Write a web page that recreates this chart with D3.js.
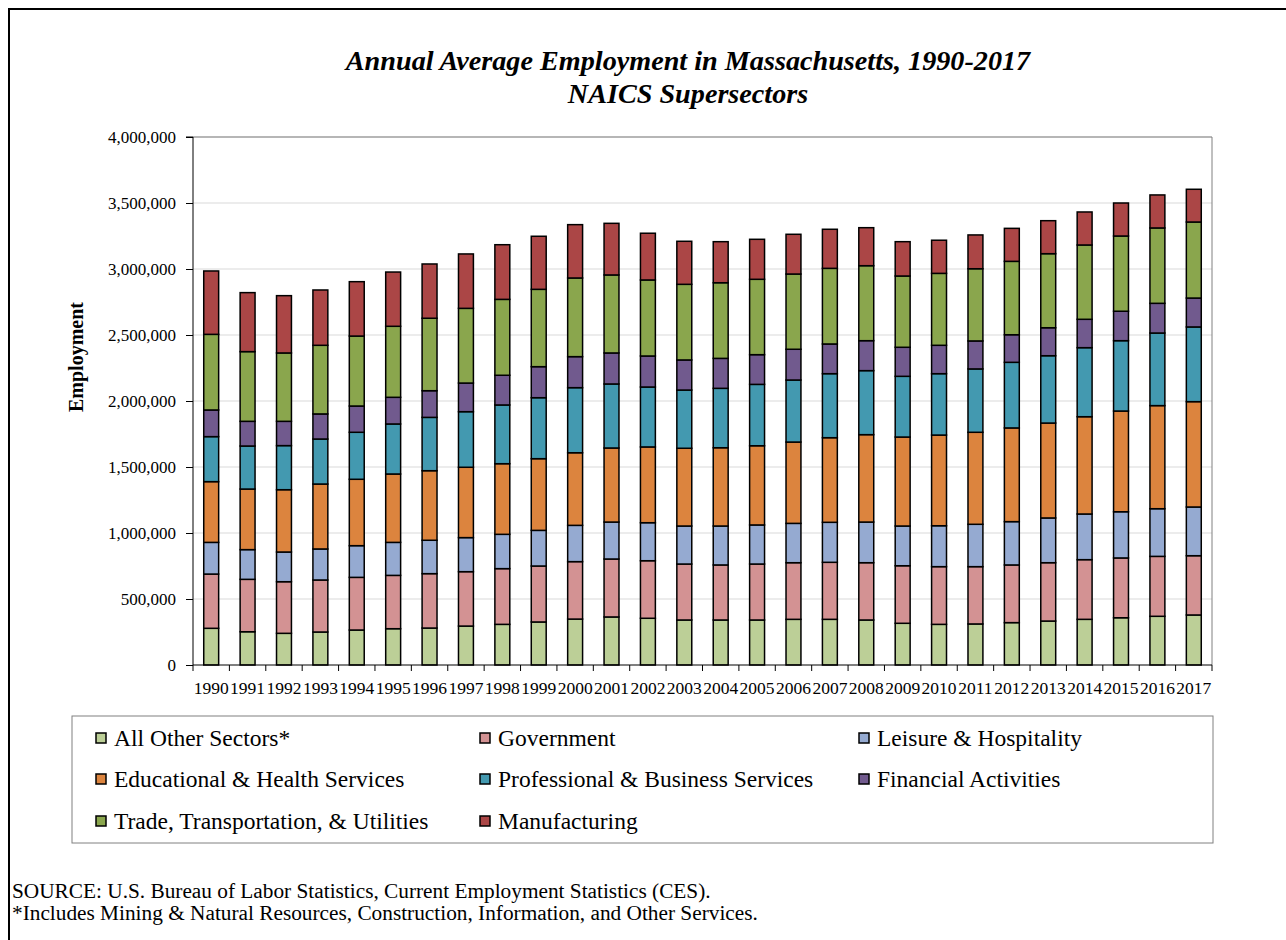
<!DOCTYPE html>
<html>
<head>
<meta charset="utf-8">
<script src="https://cdn.jsdelivr.net/npm/d3@7"></script>
<style>
  html, body { margin: 0; padding: 0; background: #fff; }
  svg { display: block; }
  text { font-family: "Liberation Serif", "Times New Roman", serif; fill: #000; }
</style>
</head>
<body>
<svg id="chart" width="1286" height="940"></svg>
<script>
// ---------- DATA (employment, thousands) ----------
const years = ["1990","1991","1992","1993","1994","1995","1996","1997","1998","1999",
  "2000","2001","2002","2003","2004","2005","2006","2007","2008","2009",
  "2010","2011","2012","2013","2014","2015","2016","2017"];

const allOther      = [278,252,240,250,265,275,280,295,308,326,348,364,354,341,341,341,346,346,341,316,308,311,321,333,346,358,369,379];
const government    = [411,397,391,394,399,404,412,412,422,424,435,439,436,424,417,424,429,432,434,436,437,434,437,442,452,453,454,449];
const leisure       = [240,225,225,235,240,250,253,258,260,270,275,280,288,288,295,296,298,303,308,301,310,321,328,339,346,350,361,369];
const eduHealth     = [460,459,472,492,503,518,527,533,535,543,550,561,574,589,593,600,616,641,662,674,687,697,710,719,737,763,781,798];
const profBusiness  = [341,326,334,341,356,379,404,421,445,462,493,485,454,441,450,465,470,485,485,460,465,480,497,510,523,533,550,566];
const financial     = [202,187,184,190,199,202,202,217,225,235,235,235,235,228,227,225,233,225,227,220,215,212,209,212,215,223,225,219];
const tradeTransUtil= [573,528,518,520,530,538,549,566,575,586,596,591,576,573,573,571,570,573,568,540,545,547,556,561,563,570,571,576];
const manufacturing = [480,447,434,419,412,411,411,412,414,402,404,391,354,326,311,303,301,296,288,260,251,256,250,250,250,250,250,248];

const seriesNames = ["All Other Sectors*","Government","Leisure & Hospitality",
  "Educational & Health Services","Professional & Business Services","Financial Activities",
  "Trade, Transportation, & Utilities","Manufacturing"];
const seriesValues = [allOther, government, leisure, eduHealth, profBusiness, financial, tradeTransUtil, manufacturing];
const seriesColors = ["#bccf97","#d39293","#95aad1","#dc843e","#4399b0","#715a8e","#8aa64d","#ab4646"];

const yTicks = [0,500000,1000000,1500000,2000000,2500000,3000000,3500000,4000000];

// ---------- BUILD ----------
const keys = seriesNames.map((d,i)=>"s"+i);
const table = years.map((yr,j)=>{
  const row = {year: yr};
  keys.forEach((k,i)=>{ row[k] = seriesValues[i][j]*1000; });
  return row;
});
const stacked = d3.stack().keys(keys)(table);

const svg = d3.select("#chart");

// outer frame
svg.append("rect").attr("x",9).attr("y",9).attr("width",1400).attr("height",1100)
  .attr("fill","none").attr("stroke","#000").attr("stroke-width",2);

const L = 193, R = 1212, T = 137, B = 665;

const x = d3.scaleBand().domain(years).range([L,R]).paddingInner(0.59).paddingOuter(0.295);
const y = d3.scaleLinear().domain([0,4000000]).range([B,T]);

// gridlines
svg.append("g").selectAll("line").data(yTicks.slice(1)).join("line")
  .attr("x1",L).attr("x2",R).attr("y1",d=>y(d)).attr("y2",d=>y(d))
  .attr("stroke","#d9d9d9").attr("stroke-width",1);

// plot-area border top/right
svg.append("path").attr("d",`M${L},${T}H${R}V${B}`).attr("fill","none")
  .attr("stroke","#808080").attr("stroke-width",1);

// bars
const layers = svg.append("g").selectAll("g").data(stacked).join("g")
  .attr("fill",(d,i)=>seriesColors[i]);
layers.selectAll("rect").data(d=>d).join("rect")
  .attr("x",d=>x(d.data.year))
  .attr("width",x.bandwidth())
  .attr("y",d=>y(d[1]))
  .attr("height",d=>y(d[0])-y(d[1]))
  .attr("stroke","#000").attr("stroke-width",1.5);

// y axis
const yAxis = d3.axisLeft(y).tickValues(yTicks).tickFormat(d3.format(",")).tickSize(7).tickPadding(10);
const gy = svg.append("g").attr("transform",`translate(${L},0)`).call(yAxis);
gy.select(".domain").attr("stroke","#000").attr("d",`M-7,${T}H0V${B}`);
gy.selectAll(".tick line").attr("stroke","#000");
gy.selectAll("text").style("font-size","17px").style("font-family","Liberation Serif");

// x axis
const step = x.step();
const gx = svg.append("g");
gx.append("line").attr("x1",L).attr("x2",R).attr("y1",B).attr("y2",B).attr("stroke","#000").attr("stroke-width",1);
gx.selectAll("line.t").data(d3.range(years.length+1)).join("line").attr("class","t")
  .attr("x1",i=>L+i*step).attr("x2",i=>L+i*step).attr("y1",B).attr("y2",B+6).attr("stroke","#000");
gx.selectAll("text").data(years).join("text")
  .attr("x",d=>x(d)+x.bandwidth()/2).attr("y",B+29)
  .attr("text-anchor","middle").style("font-size","17.5px").text(d=>d);

// axis title
svg.append("text").attr("transform","translate(83,357) rotate(-90)")
  .attr("text-anchor","middle").style("font-size","20px").style("font-weight","bold").text("Employment");

// title
svg.append("text").attr("x",688).attr("y",70).attr("text-anchor","middle")
  .style("font-size","28.2px").style("font-weight","bold").style("font-style","italic")
  .text("Annual Average Employment in Massachusetts, 1990-2017");
svg.append("text").attr("x",688).attr("y",103).attr("text-anchor","middle")
  .style("font-size","28.2px").style("font-weight","bold").style("font-style","italic")
  .text("NAICS Supersectors");

// legend
svg.append("rect").attr("x",72).attr("y",716).attr("width",1141).attr("height",127)
  .attr("fill","#fff").attr("stroke","#808080").attr("stroke-width",1);
const colX = [96, 480, 859];
const rowY = [738, 779, 821];
const lg = svg.append("g").selectAll("g").data(seriesNames).join("g")
  .attr("transform",(d,i)=>`translate(${colX[i%3]},${rowY[Math.floor(i/3)]})`);
lg.append("rect").attr("x",0).attr("y",-5).attr("width",10).attr("height",10)
  .attr("fill",(d,i)=>seriesColors[i]).attr("stroke","#000").attr("stroke-width",1.5);
lg.append("text").attr("x",18).attr("y",8).style("font-size","23.5px").text(d=>d);

// source notes
svg.append("text").attr("x",12).attr("y",898).style("font-size","21.3px")
  .text("SOURCE: U.S. Bureau of Labor Statistics, Current Employment Statistics (CES).");
svg.append("text").attr("x",12).attr("y",920).style("font-size","21.3px")
  .text("*Includes Mining & Natural Resources, Construction, Information, and Other Services.");
</script>
</body>
</html>
